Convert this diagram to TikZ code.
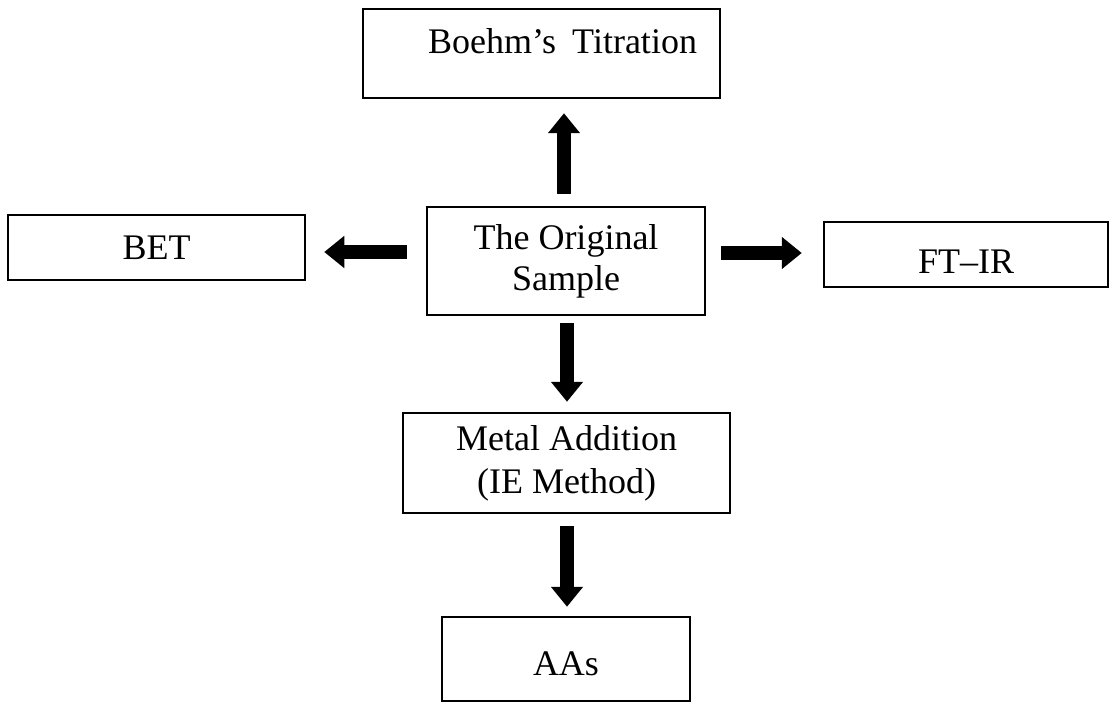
\documentclass[tikz,border=0pt]{standalone}
\usepackage{fontspec}
\setmainfont{Liberation Serif}
\usetikzlibrary{arrows.meta}
\tikzset{
  box/.style={draw=black, line width=2.5pt, rectangle, inner sep=0pt, align=center,
    font=\fontsize{36}{41}\selectfont},
  bigarrow/.style={line width=14pt, -{Triangle[width=31pt,length=20pt]}},
}
\begin{document}
\begin{tikzpicture}[x=1pt,y=-1pt]
\useasboundingbox (0,0) rectangle (1118,703);
\node[box, minimum width=357pt, minimum height=89pt, text height=30pt, text depth=30pt] (boehm) at (541.5,53.5) {\hspace*{42pt}Boehm’s\hspace{0.45em}Titration};
\node[box, minimum width=297pt, minimum height=65pt] (bet) at (156.5,247.5) {BET};
\node[box, minimum width=278pt, minimum height=108pt] (orig) at (566,261) {The Original\\Sample};
\node[box, minimum width=284pt, minimum height=65pt, text height=38pt, text depth=0pt] (ftir) at (966,254.5) {FT–IR};
\node[box, minimum width=327pt, minimum height=100pt] (metal) at (566.5,463) {Metal Addition\\[2pt](IE Method)};
\node[box, minimum width=248pt, minimum height=84pt, text height=32pt, text depth=0pt] (aas) at (566,659) {AAs};

\draw[bigarrow, shorten <=12pt, shorten >=14pt] ([xshift=-2pt]orig.north) -- ([xshift=-2pt]orig.north |- boehm.south);
\draw[bigarrow, shorten <=19pt, shorten >=18pt] ([yshift=9pt]orig.west) -- ([yshift=9pt]orig.west -| bet.east);
\draw[bigarrow, shorten <=15pt, shorten >=21pt] ([yshift=8pt]orig.east) -- ([yshift=8pt]orig.east -| ftir.west);
\draw[bigarrow, shorten <=7pt, shorten >=10pt] ([xshift=1pt]orig.south) -- ([xshift=1pt]orig.south |- metal.north);
\draw[bigarrow, shorten <=12pt, shorten >=9pt] ([xshift=0.5pt]metal.south) -- ([xshift=0.5pt]metal.south |- aas.north);
\end{tikzpicture}
\end{document}
